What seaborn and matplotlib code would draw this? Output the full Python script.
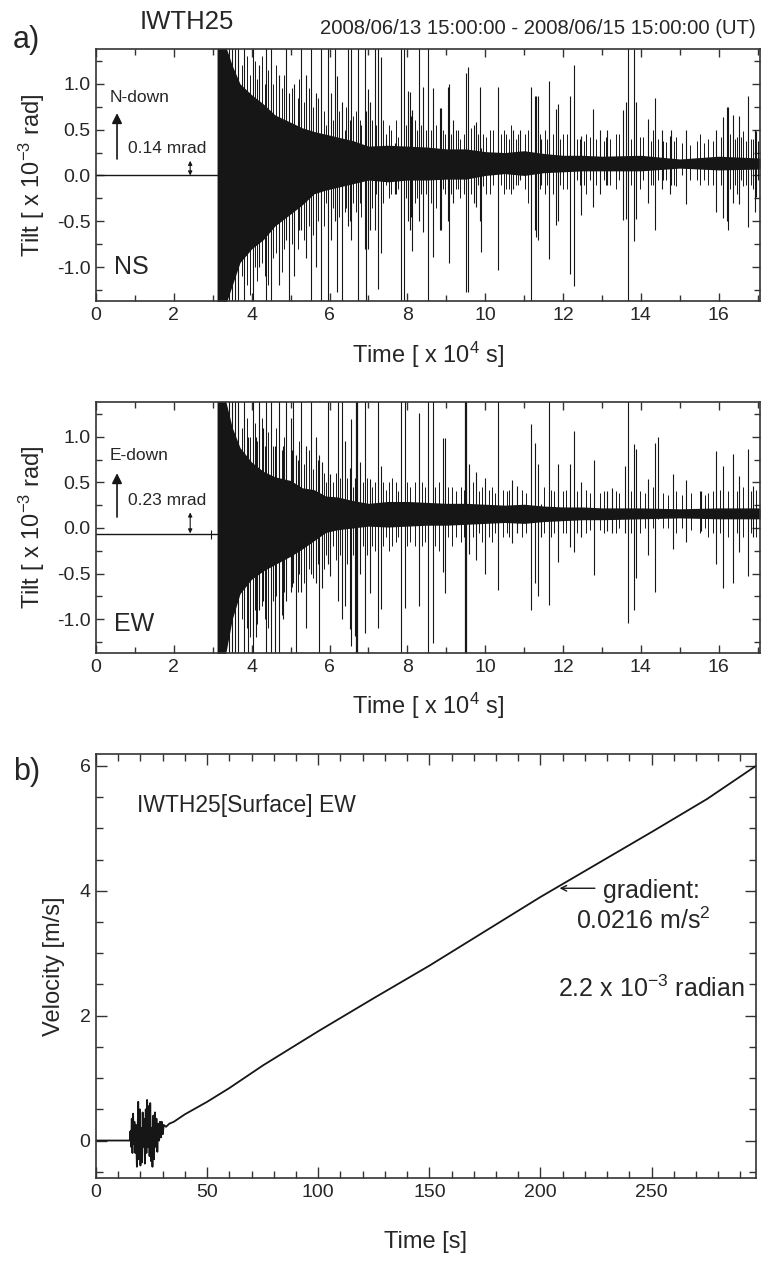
import numpy as np
import pandas as pd
import matplotlib
matplotlib.use('Agg')
import matplotlib.pyplot as plt
import seaborn as sns
from matplotlib.ticker import MultipleLocator

# ---- data ----
# tilt record, time in 1e4 s, tilt in 1e-3 rad
PRE_T = [0.0, 3.11]
NS_PRE = [0.0, 0.0]
EW_PRE = [-0.065, -0.065]

# envelope of the dense core of the tilt record
ENV_T = [3.11, 3.3, 3.5, 3.7, 4.0, 4.3, 4.6, 5.0, 5.3, 5.6, 5.9, 6.2, 6.6, 7.0, 7.5,
         8.0, 8.5, 9.0, 9.5, 10.0, 10.5, 11.0, 11.5, 12.0, 12.5, 13.0, 14.0, 15.0, 16.0, 17.06]
NS_UPPER = [1.45, 1.45, 1.2, 1.0, 0.88, 0.78, 0.66, 0.58, 0.52, 0.48, 0.45, 0.42, 0.38, 0.32, 0.33,
            0.32, 0.31, 0.29, 0.29, 0.26, 0.25, 0.27, 0.24, 0.22, 0.22, 0.21, 0.22, 0.18, 0.21, 0.19]
NS_LOWER = [-1.45, -1.45, -1.2, -0.95, -0.8, -0.7, -0.55, -0.42, -0.32, -0.2, -0.16, -0.13, -0.09, -0.05, -0.07,
            -0.05, -0.05, -0.04, -0.04, 0.0, 0.02, 0.0, 0.03, 0.04, 0.05, 0.05, 0.05, 0.08, 0.06, 0.07]
EW_UPPER = [1.45, 1.45, 1.1, 0.88, 0.72, 0.62, 0.56, 0.52, 0.44, 0.42, 0.35, 0.34, 0.30, 0.27, 0.29,
            0.29, 0.28, 0.27, 0.27, 0.26, 0.25, 0.26, 0.24, 0.23, 0.23, 0.22, 0.22, 0.21, 0.22, 0.22]
EW_LOWER = [-1.45, -1.45, -1.0, -0.72, -0.56, -0.47, -0.4, -0.31, -0.23, -0.14, -0.05, -0.02, 0.0, 0.02, 0.01,
            0.02, 0.03, 0.03, 0.04, 0.05, 0.06, 0.05, 0.07, 0.08, 0.09, 0.09, 0.10, 0.11, 0.10, 0.10]

# single spikes: (time, top, bottom)
NS_SPIKES = [
    (3.42, 1.45, -1.45), (3.50, 1.45, -1.45), (3.58, 1.45, -1.45), (3.66, 1.45, -1.45),
    (3.81, 1.45, -1.45), (4.03, 1.45, -1.45), (4.37, 1.45, -1.45), (4.50, 1.45, -1.45),
    (5.53, 1.45, -1.45), (5.79, 1.45, -1.45), (5.96, 1.45, -1.45), (6.73, 1.45, -1.45),
    (7.83, 1.45, -1.45), (7.91, 1.45, -1.45), (8.53, 1.45, -1.45), (13.67, 1.45, -1.45),
    (4.89, 1.45, -0.7), (5.27, 1.45, -0.6), (6.13, 1.45, -0.5), (6.47, 1.45, -0.55),
    (6.56, 1.45, -0.7), (6.90, 1.45, -0.8), (7.16, 1.45, -0.6), (8.30, 1.45, -0.5), (7.24, 1.45, -1.24),
    (4.97, 0.9, -1.45), (6.33, 0.8, -1.45), (6.94, 0.7, -1.45), (11.18, 0.96, -1.45),
    (4.2, 1.2, -1.0), (4.7, 1.1, -1.2), (5.1, 1.0, -1.1), (5.4, 1.1, -0.9), (5.65, 0.9, -1.0),
    (6.05, 0.9, -0.7), (6.19, 1.09, -1.27), (6.98, 0.94, -0.80), (7.03, 0.8, -0.6), (7.33, 1.29, -0.85),
    (7.46, 0.4, 0.0), (7.67, 0.35, -0.2), (8.01, 0.92, -0.5), (8.06, 0.91, -0.60), (8.10, 0.65, -0.45),
    (8.12, 0.71, -0.82), (8.40, 0.97, -0.62), (8.66, 0.95, -0.89), (8.83, 0.74, -0.60), (8.87, 0.74, -0.60),
    (9.04, 0.96, -0.5), (9.07, 1.00, -0.96), (9.17, 0.6, -0.3), (9.51, 1.12, -1.27), (9.55, 1.18, -1.27),
    (9.72, 0.55, -0.3), (9.77, 0.58, -0.34), (9.86, 0.96, -0.5), (9.90, 0.3, -0.83), (10.33, 0.96, -1.03),
    (10.72, 0.5, -0.15), (10.9, 0.5, -0.05), (11.27, 0.87, -0.6), (11.31, 0.87, -0.67), (11.35, 0.87, -0.7),
    (11.44, 0.4, -0.1), (11.64, 1.03, -0.91), (11.81, 0.73, -0.54), (11.87, 0.78, -0.5), (12.19, 0.87, -1.07),
    (12.28, 1.21, -1.21), (12.47, 0.43, -0.43), (12.77, 0.73, -0.34), (12.96, 0.5, -0.2), (13.14, 0.5, -0.1),
    (13.54, 0.71, -0.49), (13.63, 0.8, -0.47), (13.82, 1.38, -0.71), (13.87, 0.80, -0.47), (14.18, 0.62, -0.3),
    (14.35, 0.84, -0.60), (14.55, 0.5, -0.15), (14.74, 0.43, -0.20), (14.78, 0.5, -0.1), (15.15, 0.5, -0.31),
    (15.94, 0.5, -0.4), (16.11, 0.64, -0.46), (16.20, 0.75, -0.5), (16.24, 0.75, -0.6), (16.36, 0.66, -0.3),
    (16.51, 0.65, -0.31), (16.74, 0.87, -0.56), (16.92, 0.5, -0.4), (16.97, 0.49, -0.24),
]
NS_FRINGE = [
    (3.75, 1.2, -1.1), (3.87, 1.3, -1.2), (3.95, 1.1, -1.3), (4.08, 1.25, -1.0), (4.14, 1.05, -1.15),
    (4.26, 1.3, -0.95), (4.33, 1.0, -1.1), (4.43, 1.15, -1.2), (4.56, 1.0, -0.9), (4.63, 1.2, -0.85),
    (4.77, 0.95, -1.05), (4.83, 1.1, -0.8), (5.03, 0.95, -0.75), (5.18, 0.85, -0.8), (5.22, 1.05, -0.6),
    (5.35, 0.8, -0.7), (5.46, 0.95, -0.55), (5.58, 0.75, -0.65), (5.71, 0.85, -0.5), (5.86, 0.7, -0.55),
    (5.91, 0.55, -0.3), (6.09, 0.6, -0.35), (6.24, 0.7, -0.45), (6.39, 0.5, -0.4), (6.42, 0.75, -0.35),
    (6.52, 0.6, -0.5), (6.60, 0.65, -0.3), (6.67, 0.7, -0.4), (6.78, 0.6, -0.3), (6.82, 0.55, -0.45),
    (7.03, 0.5, -0.25), (7.08, 0.6, -0.35), (7.20, 0.55, -0.2), (7.38, 0.6, -0.3), (7.46, 0.45, -0.1),
    (7.52, 0.55, -0.25), (7.59, 0.5, -0.2), (7.72, 0.6, -0.2), (7.76, 0.42, -0.15), (7.97, 0.55, -0.25),
    (8.19, 0.6, -0.3), (8.25, 0.5, -0.25), (8.35, 0.55, -0.2), (8.48, 0.5, -0.2), (8.60, 0.5, -0.3),
    (8.74, 0.55, -0.35), (8.92, 0.5, -0.15), (8.96, 0.45, -0.2), (9.12, 0.45, -0.2), (9.25, 0.5, -0.15),
    (9.30, 0.5, -0.15), (9.34, 0.4, -0.25), (9.45, 0.45, -0.2), (9.64, 0.52, -0.2), (9.81, 0.45, -0.1),
    (9.95, 0.45, -0.12), (10.03, 0.42, -0.2), (10.12, 0.5, -0.2), (10.20, 0.5, -0.1), (10.40, 0.45, -0.1),
    (10.48, 0.5, -0.2), (10.54, 0.45, -0.15), (10.60, 0.4, -0.15), (10.67, 0.55, -0.2), (10.80, 0.4, -0.1),
    (10.85, 0.45, -0.1), (11.01, 0.45, -0.15), (11.10, 0.5, -0.3), (11.40, 0.45, -0.15), (11.53, 0.5, -0.2),
    (11.60, 0.4, -0.1), (11.75, 0.45, -0.2), (11.93, 0.4, -0.1), (11.99, 0.45, -0.15), (12.10, 0.45, -0.15),
    (12.35, 0.4, -0.05), (12.43, 0.4, -0.1), (12.55, 0.38, -0.1), (12.60, 0.45, -0.2), (12.70, 0.42, -0.05),
    (12.85, 0.4, -0.1), (12.94, 0.4, -0.1), (13.05, 0.38, -0.05), (13.11, 0.42, -0.1), (13.20, 0.4, -0.1),
    (13.37, 0.45, -0.15), (13.45, 0.45, -0.05), (13.75, 0.4, -0.1), (13.97, 0.42, -0.15), (14.05, 0.42, -0.05),
    (14.25, 0.38, -0.1), (14.31, 0.5, -0.1), (14.45, 0.4, -0.05), (14.57, 0.38, -0.05), (14.65, 0.36, -0.05),
    (14.85, 0.38, -0.1), (14.91, 0.42, -0.12), (15.05, 0.35, 0.0), (15.17, 0.45, -0.2), (15.25, 0.33, -0.05),
    (15.43, 0.38, -0.05), (15.51, 0.45, -0.1), (15.62, 0.35, -0.05), (15.73, 0.4, -0.1), (15.85, 0.38, -0.1),
    (16.05, 0.42, -0.1), (16.30, 0.45, -0.15), (16.42, 0.4, -0.1), (16.46, 0.42, -0.2), (16.58, 0.42, -0.05),
    (16.63, 0.48, -0.12), (16.70, 0.38, -0.1), (16.82, 0.4, -0.1), (16.88, 0.4, -0.15), (17.0, 0.38, -0.05),
]
EW_SPIKES = [
    (3.42, 1.45, -1.45), (3.50, 1.45, -1.45), (3.58, 1.45, -1.45), (3.66, 1.45, -1.45),
    (3.81, 1.45, -1.45), (4.03, 1.45, -1.45), (4.37, 1.45, -1.45), (4.50, 1.45, -1.45),
    (4.71, 1.45, -1.45), (7.84, 1.45, -1.45), (8.53, 1.45, -1.45),
    (4.20, 1.45, -0.9), (4.89, 1.45, -0.8), (5.06, 1.45, -0.6), (5.27, 1.45, -0.7), (5.53, 1.45, -0.5),
    (5.96, 1.45, -0.4), (6.21, 1.45, -0.8), (6.32, 1.45, -1.0), (6.90, 1.45, -1.15), (7.24, 1.45, -1.1),
    (7.93, 1.45, -0.88), (8.66, 1.45, -1.26), (10.33, 1.45, -0.68), (11.64, 1.45, -0.84), (13.67, 1.45, -1.04),
    (3.9, 1.0, -1.45), (4.6, 0.9, -1.45), (5.15, 0.8, -1.45), (5.74, 0.8, -1.45),
    (4.1, 1.0, -1.2), (4.3, 1.1, -0.8), (4.8, 0.9, -1.0), (5.0, 1.2, -0.7), (5.4, 0.9, -1.1), (5.65, 1.0, -0.6),
    (5.80, 0.72, -0.66), (6.0, 0.59, -0.53), (6.39, 0.95, -0.86), (6.52, 0.66, -1.11), (6.56, 1.19, -1.29),
    (6.65, 0.55, -1.18), (6.78, 0.72, -0.5), (7.03, 0.54, -0.71), (7.31, 0.68, -0.89), (8.30, 1.26, -0.86),
    (8.91, 0.99, -0.48), (8.97, 0.99, -0.71), (9.59, 0.70, -0.28), (9.76, 0.61, -0.35), (9.99, 0.55, -0.5),
    (10.70, 0.52, -0.17), (10.82, 0.46, -0.06), (11.18, 1.14, -0.9), (11.28, 0.93, -0.6), (11.35, 0.7, -0.75),
    (11.44, 0.26, -0.1), (11.87, 0.70, -0.37), (12.19, 0.70, -0.21), (12.28, 1.06, -0.26), (12.45, 0.50, -0.10),
    (12.79, 0.75, -0.52), (13.12, 0.41, -0.03), (13.27, 0.44, -0.06), (13.58, 0.68, -0.06), (13.82, 0.92, -0.9),
    (13.87, 0.86, -0.55), (14.18, 0.54, -0.3), (14.37, 0.93, -0.7), (14.44, 1.0, 0.1), (14.82, 0.59, -0.23),
    (15.15, 0.52, -0.15), (15.55, 0.41, -0.03), (15.94, 0.84, -0.39), (16.11, 0.68, -0.66), (16.36, 0.81, -0.6),
    (16.53, 0.57, -0.26), (16.75, 0.86, -0.53), (16.88, 0.46, -0.1), (2.95, -0.02, -0.12),
]
EW_BOLD = [(6.71, 1.45, -1.45), (9.51, 1.45, -1.45)]
EW_FRINGE = [
    (3.75, 1.1, -1.0), (3.87, 1.2, -1.1), (3.95, 1.0, -1.2), (4.08, 1.15, -0.9), (4.14, 0.95, -1.05),
    (4.26, 1.2, -0.85), (4.33, 0.9, -1.0), (4.43, 1.05, -1.1), (4.56, 0.9, -0.8), (4.63, 1.1, -0.75),
    (4.77, 0.85, -0.95), (4.83, 1.0, -0.7), (5.03, 0.85, -0.65), (5.18, 0.75, -0.7), (5.22, 0.95, -0.5),
    (5.35, 0.7, -0.6), (5.46, 0.85, -0.45), (5.58, 0.65, -0.55), (5.71, 0.75, -0.4), (5.86, 0.6, -0.45),
    (5.91, 0.5, -0.3), (6.09, 0.5, -0.2), (6.16, 0.6, -0.35), (6.27, 0.55, -0.3), (6.45, 0.55, -0.4),
    (6.60, 0.45, -0.3), (6.85, 0.5, -0.2), (6.95, 0.55, -0.3), (7.10, 0.45, -0.2), (7.18, 0.5, -0.25),
    (7.38, 0.5, -0.2), (7.45, 0.42, -0.1), (7.52, 0.5, -0.25), (7.60, 0.55, -0.2), (7.70, 0.5, -0.15),
    (7.75, 0.4, -0.1), (8.00, 0.5, -0.2), (8.08, 0.45, -0.15), (8.19, 0.5, -0.2), (8.38, 0.5, -0.2),
    (8.45, 0.45, -0.15), (8.72, 0.45, -0.2), (8.80, 0.5, -0.25), (9.05, 0.45, -0.1), (9.15, 0.45, -0.2),
    (9.25, 0.4, -0.1), (9.38, 0.45, -0.15), (9.45, 0.42, -0.1), (9.68, 0.5, -0.1), (9.85, 0.4, -0.05),
    (9.92, 0.45, -0.15), (10.10, 0.42, -0.1), (10.18, 0.45, -0.15), (10.25, 0.38, -0.05), (10.45, 0.42, -0.1),
    (10.55, 0.4, -0.05), (10.62, 0.42, -0.1), (10.95, 0.42, -0.1), (11.05, 0.38, -0.05), (11.52, 0.45, -0.05),
    (11.70, 0.42, -0.1), (11.78, 0.4, -0.05), (11.99, 0.4, -0.05), (12.08, 0.42, -0.05), (12.36, 0.4, -0.05),
    (12.60, 0.42, -0.05), (12.70, 0.38, -0.02), (12.94, 0.38, -0.02), (13.05, 0.4, -0.05), (13.37, 0.4, -0.05),
    (13.45, 0.38, 0.0), (13.75, 0.4, -0.05), (13.97, 0.4, -0.05), (14.10, 0.38, 0.0), (14.31, 0.45, 0.0),
    (14.57, 0.38, 0.0), (14.70, 0.36, 0.0), (14.91, 0.4, -0.05), (15.05, 0.36, 0.0), (15.30, 0.38, -0.02),
    (15.51, 0.4, -0.05), (15.65, 0.36, 0.0), (15.73, 0.38, -0.1), (15.85, 0.4, -0.05), (16.02, 0.42, -0.05),
    (16.25, 0.4, -0.1), (16.46, 0.4, -0.05), (16.63, 0.45, -0.1), (16.82, 0.4, -0.05), (16.95, 0.42, -0.1),
]

# velocity record of the surface sensor, time in s, velocity in m/s
VEL_T = [0, 15.2, 15.5, 15.8, 16.1, 16.4, 16.7, 17.0, 17.3, 17.7, 18.0, 18.4, 18.7, 19.0, 19.3, 19.7,
         20.0, 20.3, 20.7, 21.0, 21.3, 21.7, 22.0, 22.4, 22.7, 23.0, 23.4, 23.7, 24.1, 24.4, 24.8, 25.1,
         25.4, 25.8, 26.1, 26.5, 26.8, 27.2, 27.6, 28.0, 28.4, 28.8, 29.2, 29.6, 30.0, 30.5, 31.5, 33,
         35, 37.5, 40, 45, 50, 60, 75, 100, 125, 150, 175, 200, 225, 250, 275, 297]
VEL_V = [0, 0, 0.15, -0.1, 0.35, -0.2, 0.43, -0.05, 0.3, -0.2, 0.25, -0.42, 0.1, 0.62, -0.3, 0.5,
         -0.4, 0.2, -0.35, 0.45, -0.1, 0.35, -0.37, 0.5, -0.2, 0.65, -0.1, 0.55, -0.25, 0.6, -0.33, 0.2,
         -0.42, 0.4, -0.3, 0.45, -0.1, 0.35, -0.18, 0.27, 0.0, 0.3, 0.05, 0.3, 0.1, 0.25, 0.22, 0.27,
         0.3, 0.36, 0.42, 0.52, 0.62, 0.84, 1.2, 1.75, 2.28, 2.80, 3.35, 3.90, 4.42, 4.94, 5.47, 6.0]

sns.set_theme(style='ticks')
plt.rcParams['font.family'] = ['Liberation Sans', 'DejaVu Sans']
plt.rcParams['mathtext.default'] = 'regular'
plt.rcParams['axes.unicode_minus'] = False

INK = '#161616'
W, H = 761, 1274


def rect(l, t, r, b):
    return [l / W, 1 - b / H, (r - l) / W, (b - t) / H]


def style_axes(ax):
    for s in ax.spines.values():
        s.set_color('#333333')
        s.set_linewidth(1.2)
    ax.tick_params(which='both', direction='in', top=True, right=True,
                   color='#333333', width=1.0, labelsize=14, pad=4)
    ax.tick_params(which='major', length=6)
    ax.tick_params(which='minor', length=4)


def draw_tilt(ax, pre_v, upper, lower, spikes, fringe, bold):
    sns.lineplot(x=PRE_T, y=pre_v, ax=ax, color=INK, lw=1.0)
    ax.fill_between(ENV_T, lower, upper, color=INK, lw=0)
    for group, lw in ((fringe, 0.7), (spikes, 0.8), (bold, 1.6)):
        if group:
            t, top, bot = zip(*group)
            ax.vlines(t, bot, top, color=INK, lw=lw)
    ax.set_xlim(0, 17.06)
    ax.set_ylim(-1.37, 1.38)
    ax.xaxis.set_major_locator(MultipleLocator(2))
    ax.xaxis.set_minor_locator(MultipleLocator(1))
    ax.yaxis.set_major_locator(MultipleLocator(0.5))
    ax.yaxis.set_minor_locator(MultipleLocator(0.25))
    ax.yaxis.set_major_formatter(lambda v, p: f'{v:.1f}')
    style_axes(ax)
    ax.set_xlabel('Time [ x 10$^{4}$ s]', fontsize=17)
    ax.set_ylabel('Tilt [ x 10$^{-3}$ rad]', fontsize=17)
    ax.xaxis.set_label_coords(0.5, -0.152)
    ax.yaxis.set_label_coords(-0.074, 0.5)


fig = plt.figure(figsize=(W / 100, H / 100), dpi=100)
ax_ns = fig.add_axes(rect(96, 49, 760, 301))
ax_ew = fig.add_axes(rect(96, 402, 760, 653))
ax_b = fig.add_axes(rect(96, 754, 756, 1178))

draw_tilt(ax_ns, NS_PRE, NS_UPPER, NS_LOWER, NS_SPIKES, NS_FRINGE, [])
draw_tilt(ax_ew, EW_PRE, EW_UPPER, EW_LOWER, EW_SPIKES, EW_FRINGE, EW_BOLD)

# annotations on the tilt panels
arrow_up = dict(arrowstyle='-|>', color=INK, lw=1.2, mutation_scale=15, shrinkA=0, shrinkB=0)
arrow_dbl = dict(arrowstyle='<|-|>', color=INK, lw=0.8, mutation_scale=6, shrinkA=0, shrinkB=0)

ax_ns.text(0.34, 0.85, 'N-down', fontsize=12.5, va='center')
ax_ns.annotate('', xy=(0.54, 0.68), xytext=(0.54, 0.18), arrowprops=arrow_up)
ax_ns.text(0.81, 0.29, '0.14 mrad', fontsize=12.5, va='center')
ax_ns.annotate('', xy=(2.42, 0.16), xytext=(2.42, 0.0), arrowprops=arrow_dbl)
ax_ns.text(0.47, -1.0, 'NS', fontsize=18, va='center')

ax_ew.text(0.34, 0.79, 'E-down', fontsize=12.5, va='center')
ax_ew.annotate('', xy=(0.54, 0.60), xytext=(0.54, 0.12), arrowprops=arrow_up)
ax_ew.text(0.82, 0.30, '0.23 mrad', fontsize=12.5, va='center')
ax_ew.annotate('', xy=(2.42, 0.17), xytext=(2.42, -0.06), arrowprops=arrow_dbl)
ax_ew.text(0.47, -1.05, 'EW', fontsize=18, va='center')

fig.text(13 / W, 1 - 40 / H, 'a)', fontsize=22, va='center')
fig.text(187 / W, 1 - 22 / H, 'IWTH25', fontsize=18.5, ha='center', va='center')
fig.text(756 / W, 1 - 28 / H, '2008/06/13 15:00:00 - 2008/06/15 15:00:00 (UT)',
         fontsize=14.6, ha='right', va='center')

# velocity panel
vel = pd.DataFrame({'time': VEL_T, 'velocity': VEL_V})
sns.lineplot(data=vel, x='time', y='velocity', ax=ax_b, color=INK, lw=1.3,
             estimator=None, sort=False)
ax_b.set_xlim(0, 297)
ax_b.set_ylim(-0.6, 6.19)
ax_b.xaxis.set_major_locator(MultipleLocator(50))
ax_b.xaxis.set_minor_locator(MultipleLocator(10))
ax_b.yaxis.set_major_locator(MultipleLocator(2))
ax_b.yaxis.set_minor_locator(MultipleLocator(0.5))
style_axes(ax_b)
ax_b.tick_params(which='major', length=8)
ax_b.tick_params(which='minor', length=5)
ax_b.set_xlabel('Time [s]', fontsize=17)
ax_b.set_ylabel('Velocity [m/s]', fontsize=17)
ax_b.xaxis.set_label_coords(0.5, -0.125)
ax_b.yaxis.set_label_coords(-0.047, 0.5)

ax_b.text(18.6, 5.37, 'IWTH25[Surface] EW', fontsize=16.5, va='center')
ax_b.annotate('', xy=(208.6, 4.04), xytext=(224.5, 4.04),
              arrowprops=dict(arrowstyle='->', color=INK, lw=1.0, mutation_scale=10,
                              shrinkA=0, shrinkB=0))
ax_b.text(228, 4.0, 'gradient:', fontsize=18, va='center')
ax_b.text(216, 3.52, '0.0216 m/s$^{2}$', fontsize=18, va='center')
ax_b.text(207.7, 2.43, '2.2 x 10$^{-3}$ radian', fontsize=18, va='center')
ax_b.text(-0.126, 0.957, 'b)', fontsize=22, va='center', transform=ax_b.transAxes)

fig.savefig('out.png', dpi=100)
